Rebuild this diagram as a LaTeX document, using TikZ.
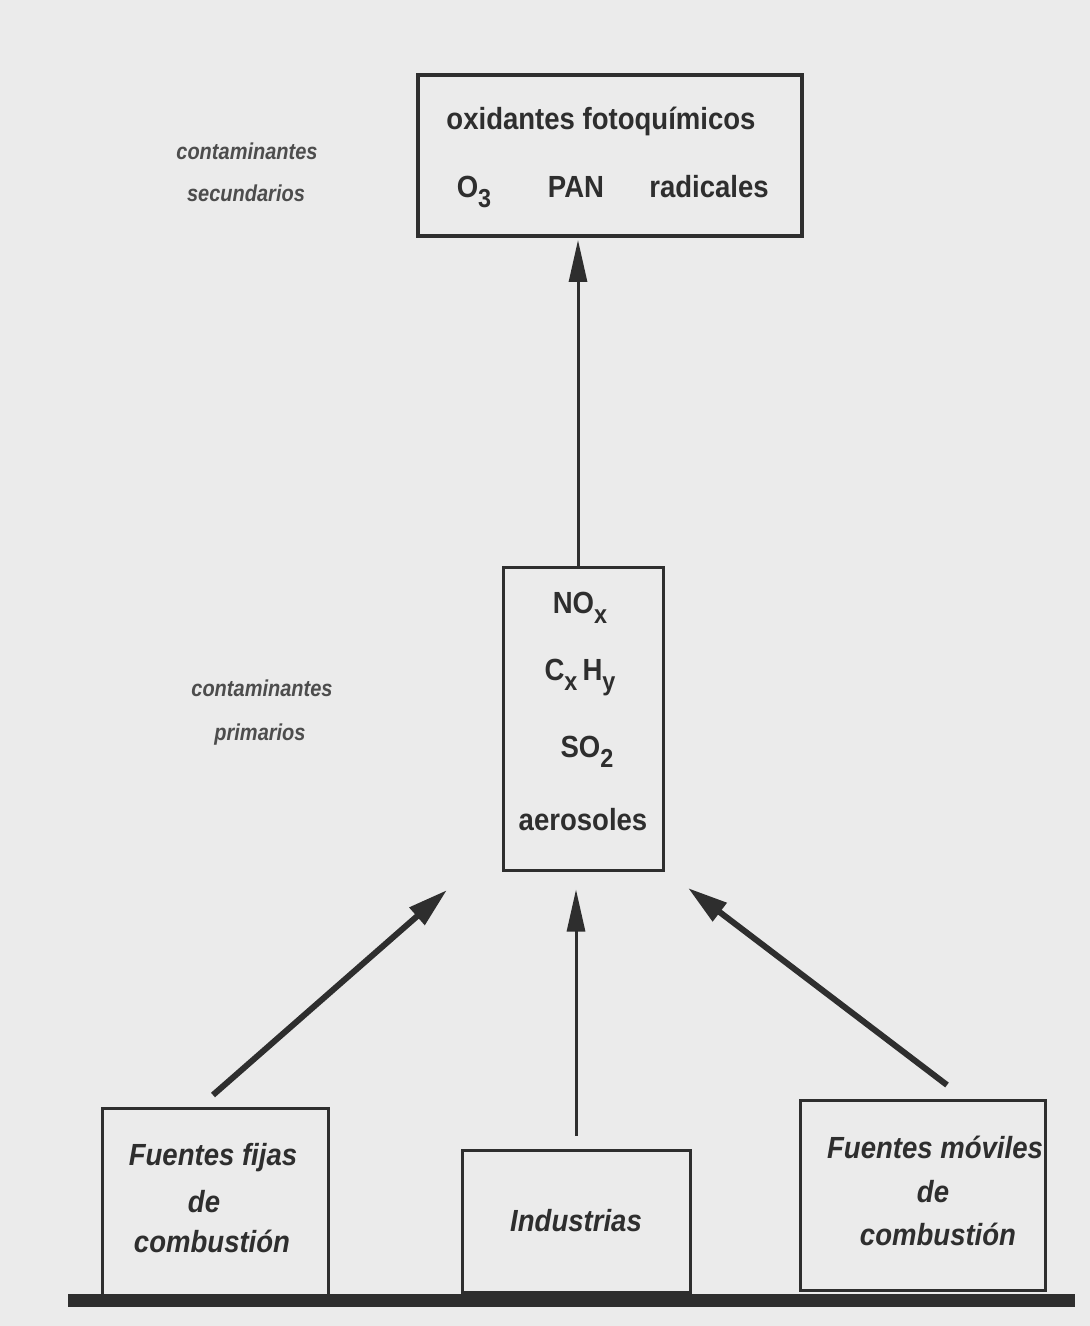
\documentclass[tikz,border=0pt]{standalone}
\usepackage{fontspec}
\setmainfont{Liberation Sans}
\newfontfamily\condfont[FakeStretch=0.9]{Liberation Sans}
\newfontfamily\labfont[FakeStretch=0.87]{Liberation Sans}
\usetikzlibrary{arrows.meta}
\definecolor{ink}{HTML}{2E2E2E}
\definecolor{paper}{HTML}{EBEBEB}
\newcommand\chemsub[1]{\raisebox{-5pt}{\fontsize{13}{13}\selectfont #1}}
\begin{document}
\begin{tikzpicture}[x=0.5pt,y=-0.5pt,
  box/.style={draw=ink, rectangle, inner sep=0pt, line width=1.5pt},
  main/.style={font=\condfont\fontsize{15.3}{21.5}\selectfont\bfseries, text=ink, align=center},
  src/.style={box, font=\condfont\fontsize{15.3}{21.5}\selectfont\bfseries\itshape, text=ink, align=center},
  srctext/.style={font=\condfont\fontsize{15.3}{21.5}\selectfont\bfseries\itshape, text=ink, align=center, inner sep=0pt},
  lab/.style={font=\labfont\fontsize{11.5}{12}\selectfont\bfseries\itshape, text=ink!85, align=center},
  thinarr/.style={draw=ink, line width=1.5pt, -{Triangle[length=21pt,width=9pt]}},
  thickarr/.style={draw=ink, line width=3pt, -{Triangle[length=20pt,width=11pt]}}]
\useasboundingbox[fill=paper] (0,0) rectangle (1090,1326);

% top box
\node[box, line width=2pt, minimum width=192pt, minimum height=80.5pt] (top) at (610,155.5) {};
\node[main, anchor=base] (t1) at (601,130) {oxidantes fotoquímicos};
\node[main, anchor=base] (t2) at (474,198) {O\chemsub{3}};
\node[main, anchor=base] (t3) at (576,198) {PAN};
\node[main, anchor=base] (t4) at (709,198) {radicales};

% labels
\node[lab, anchor=base] (ls1) at (247,160) {contaminantes};
\node[lab, anchor=base] (ls2) at (246,202) {secundarios};
\node[lab, anchor=base] (lp1) at (262,696) {contaminantes};
\node[lab, anchor=base] (lp2) at (260,740) {primarios};

% middle box
\node[box, minimum width=80pt, minimum height=151.5pt] (mid) at (583,718.5) {};
\node[main, anchor=base] (m1) at (580,613) {NO\chemsub{x}};
\node[main, anchor=base] (m2) at (580,680) {C\chemsub{x}\,H\chemsub{y}};
\node[main, anchor=base] (m3) at (587,757) {SO\chemsub{2}};
\node[main, anchor=base] (m4) at (583,830) {aerosoles};

% bottom boxes
\node[box, minimum width=113pt, minimum height=94pt] (fl) at (215,1202) {};
\node[srctext, anchor=base] (fl1) at (213,1165) {Fuentes fijas};
\node[srctext, anchor=base] (fl2) at (204,1212) {de};
\node[srctext, anchor=base] (fl3) at (212,1252) {combustión};
\node[src, minimum width=114pt, minimum height=71pt] (ind) at (576,1221) {Industrias};
\node[box, minimum width=122.5pt, minimum height=95pt] (mv) at (922.5,1195) {};
\node[srctext, anchor=base] (mv1) at (935,1158) {Fuentes móviles};
\node[srctext, anchor=base] (mv2) at (933,1202) {de};
\node[srctext, anchor=base] (mv3) at (938,1245) {combustión};

% ground line
\coordinate (g1) at (68,1300);
\coordinate (g2) at (1075,1300);
\draw[ink, line width=6.5pt] (g1) -- (g2);

% arrows
\coordinate (ux) at (578,0);
\coordinate (ux2) at (576,0);
\coordinate (lt) at (213,1095);
\coordinate (lh) at (447,890);
\coordinate (rt) at (947,1085);
\coordinate (rh) at (688,888);
\draw[thinarr, shorten >=1pt] (mid.north -| ux) -- (top.south -| ux);
\draw[thinarr, shorten <=6.5pt, shorten >=9pt] (ind.north -| ux2) -- (mid.south -| ux2);
\draw[thickarr] (lt) -- (lh);
\draw[thickarr] (rt) -- (rh);
\end{tikzpicture}
\end{document}
